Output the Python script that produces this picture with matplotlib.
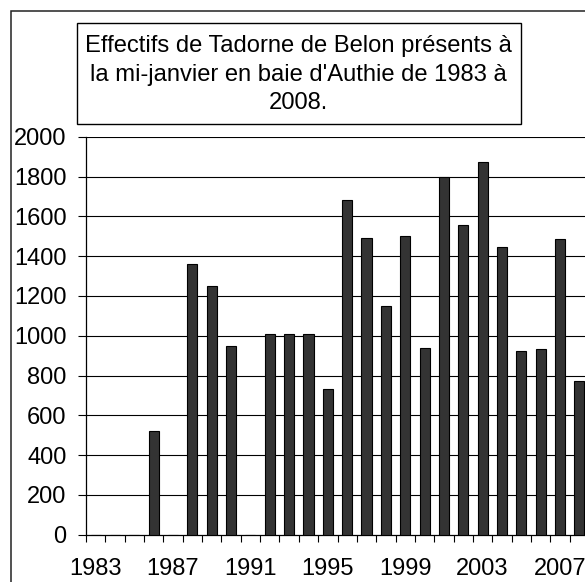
import matplotlib
matplotlib.use("Agg")
import matplotlib.pyplot as plt
from matplotlib.patches import Rectangle
import numpy as np

years = list(range(1983, 2009))
values = [0, 0, 0, 520, 0, 1360, 1250, 950, 0, 1010, 1010, 1010, 730, 1680,
          1490, 1150, 1500, 940, 1800, 1555, 1875, 1445, 925, 935, 1485, 770]
x_labels = ["1983", "1987", "1991", "1995", "1999", "2003", "2007"]
y_ticks = [0, 200, 400, 600, 800, 1000, 1200, 1400, 1600, 1800, 2000]
title = "Effectifs de Tadorne de Belon présents à\nla mi-janvier en baie d'Authie de 1983 à\n2008."

W, H = 585, 582
plt.rcParams['font.family'] = ['Liberation Sans', 'DejaVu Sans']
fig = plt.figure(figsize=(W / 100, H / 100), dpi=100)

def fx(px):
    return px / W

def fy(py):
    return 1 - py / H

# chart area border (extends beyond the cropped image)
fig.add_artist(Rectangle((fx(10.5), -0.2), 1.5, fy(10.5) + 0.2, transform=fig.transFigure,
                         fill=False, edgecolor='#222222', linewidth=1.1))

ax_left, ax_right = 86, 589
ax_top, ax_bottom = 136.7, 534.7
ax = fig.add_axes([fx(ax_left), fy(ax_bottom), (ax_right - ax_left) / W, (ax_bottom - ax_top) / H])

n = len(years)
pos = np.arange(n) + 0.5
ax.bar(pos, values, width=0.52, color='#333333', edgecolor='black', linewidth=0.8, zorder=3)
ax.set_xlim(0, n)
ax.set_ylim(0, 2000)

for v in y_ticks[1:]:
    ax.axhline(v, color='black', linewidth=0.8, zorder=1)

ax.set_yticks(y_ticks)
ax.set_yticklabels([str(v) for v in y_ticks])
ax.set_xticks(np.arange(n + 1))
ax.set_xticklabels([])
lab_idx = [years.index(int(s)) for s in x_labels]
ax.set_xticks([pos[i] for i in lab_idx], minor=True)
ax.set_xticklabels(x_labels, minor=True)

ax.tick_params(axis='y', direction='out', length=6, width=0.8, pad=8, labelsize=17, color='black')
ax.tick_params(axis='x', which='major', direction='out', length=5, width=0.8, color='black')
ax.tick_params(axis='x', which='minor', length=0, pad=17, labelsize=17)

for s in ['top', 'right']:
    ax.spines[s].set_visible(False)
for s in ['left', 'bottom']:
    ax.spines[s].set_color('black')
    ax.spines[s].set_linewidth(0.9)

# title box
box_l, box_r, box_t, box_b = 76.5, 520.5, 22.5, 123.5
fig.add_artist(Rectangle((fx(box_l), fy(box_b)), (box_r - box_l) / W, (box_b - box_t) / H,
                         transform=fig.transFigure, fill=True, facecolor='white',
                         edgecolor='black', linewidth=1.0))
fig.text(fx((box_l + box_r) / 2), fy((box_t + box_b) / 2 + 1.5), title, ha='center', va='center',
         fontsize=17.1, linespacing=1.36)

fig.savefig("out.png", dpi=100)
